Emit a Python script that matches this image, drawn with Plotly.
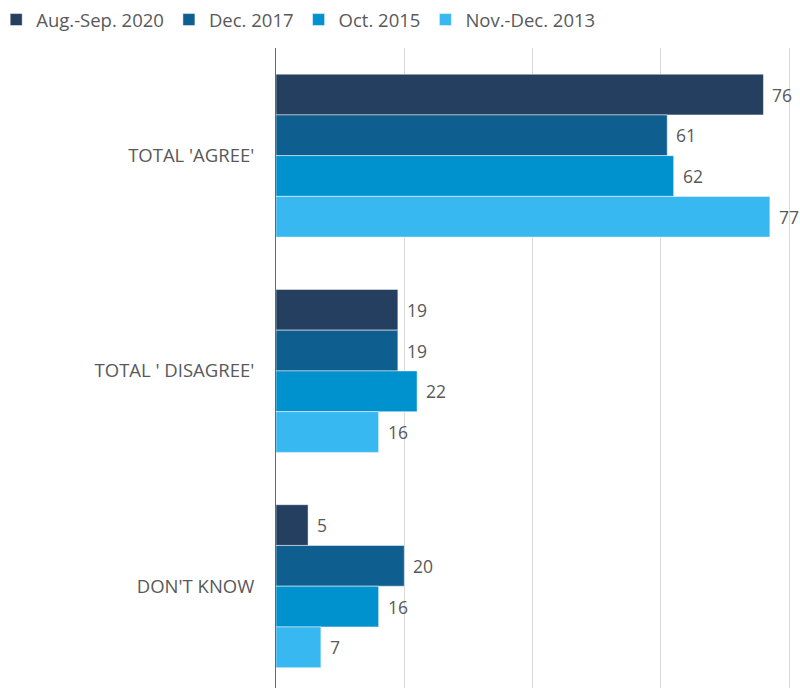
import plotly.graph_objects as go

categories = ["TOTAL 'AGREE'", "TOTAL ' DISAGREE'", "DON'T KNOW"]
series_names = ["Aug.-Sep. 2020", "Dec. 2017", "Oct. 2015", "Nov.-Dec. 2013"]
values_2020 = [76, 19, 5]
values_2017 = [61, 19, 20]
values_2015 = [62, 22, 16]
values_2013 = [77, 16, 7]
colors = ["#243F60", "#0E5F8F", "#0091CF", "#37B8F0"]

all_values = [values_2020, values_2017, values_2015, values_2013]
text_color = "#595959"
font_family = "Open Sans, Noto Sans, sans-serif"

fig = go.Figure()
for name, vals, col in zip(series_names, all_values, colors):
    fig.add_trace(go.Bar(
        name=name, y=categories, x=vals, orientation="h",
        marker=dict(color=col, line=dict(color="rgba(255,255,255,0.6)", width=0.8)),
    ))

bargap = 0.243
n = len(series_names)
bw = (1 - bargap) / n
annotations = []
for si, vals in enumerate(all_values):
    for ci, v in enumerate(vals):
        annotations.append(dict(
            x=v, y=ci + (si - (n - 1) / 2) * bw, xref="x", yref="y",
            text=str(v), showarrow=False, xanchor="left", xshift=7,
            font=dict(size=17.5, color=text_color, family=font_family),
        ))

fig.update_layout(
    width=800, height=688,
    margin=dict(l=276, r=0, t=48, b=0, autoexpand=False),
    paper_bgcolor="white", plot_bgcolor="white",
    barmode="group", bargap=bargap, bargroupgap=0,
    font=dict(family=font_family, size=18, color=text_color),
    legend=dict(orientation="h", xref="paper", yref="paper",
                x=-0.534, xanchor="left", y=1.0734, yanchor="top",
                traceorder="normal", font=dict(size=18.5, color=text_color),
                itemwidth=30),
    xaxis=dict(range=[0, 81.7], dtick=20, tick0=0, showgrid=True, gridcolor="#D9D9D9",
               gridwidth=1, showticklabels=False, zeroline=False, showline=False,
               automargin=False),
    yaxis=dict(categoryorder="array", categoryarray=categories,
               range=[2.473, -0.5], showline=True, linecolor="#6E6466", linewidth=1,
               showgrid=False, ticks="", ticklabelstandoff=17, automargin=False,
               tickfont=dict(size=18.5, color=text_color)),
    annotations=annotations,
    showlegend=True,
)
fig.write_html("out.html", config={"displayModeBar": False},
               post_script="document.body.style.margin='0';document.body.style.overflow='hidden';")
